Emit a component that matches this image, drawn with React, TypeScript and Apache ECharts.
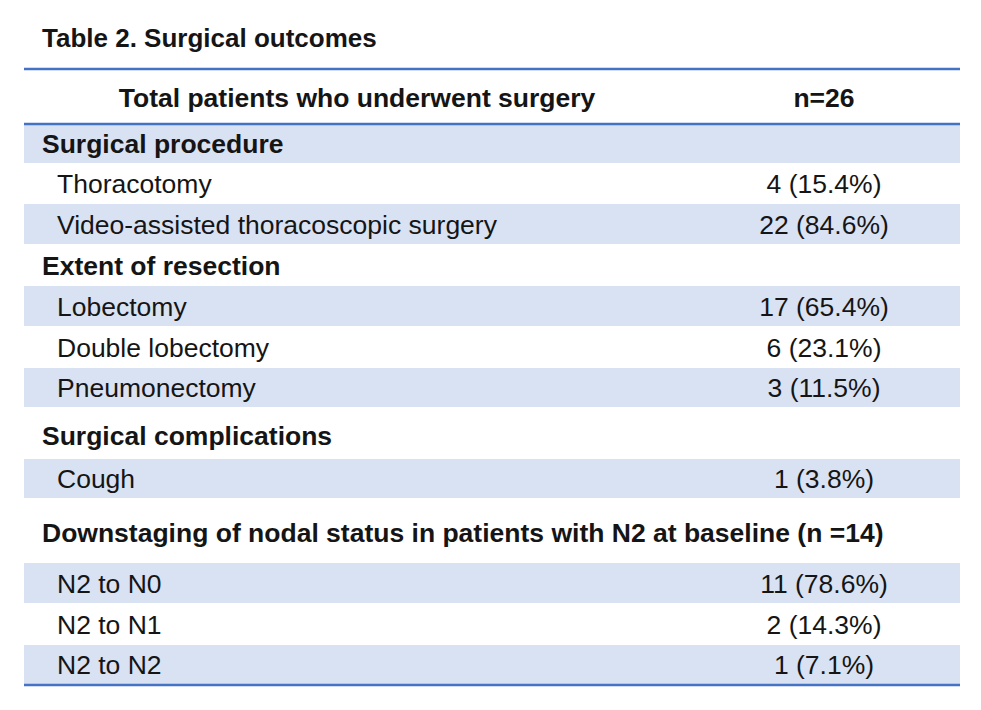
import React, { useEffect, useRef } from "react";
import * as echarts from "echarts";

const title = "Table 2. Surgical outcomes";
const headerLabel = "Total patients who underwent surgery";
const headerValue = "n=26";

// kind: "section" = bold group heading, "item" = indented row
const rowLabels = [
  "Surgical procedure",
  "Thoracotomy",
  "Video-assisted thoracoscopic surgery",
  "Extent of resection",
  "Lobectomy",
  "Double lobectomy",
  "Pneumonectomy",
  "Surgical complications",
  "Cough",
  "Downstaging of nodal status in patients with N2 at baseline (n =14)",
  "N2 to N0",
  "N2 to N1",
  "N2 to N2",
];
const rowValues = [
  "",
  "4 (15.4%)",
  "22 (84.6%)",
  "",
  "17 (65.4%)",
  "6 (23.1%)",
  "3 (11.5%)",
  "",
  "1 (3.8%)",
  "",
  "11 (78.6%)",
  "2 (14.3%)",
  "1 (7.1%)",
];
const rowKinds = [
  "section", "item", "item",
  "section", "item", "item", "item",
  "section", "item",
  "section", "item", "item", "item",
];
const rowShaded = [true, false, true, false, true, false, true, false, true, false, true, false, true];
const rowHeights = [40, 40, 41, 41, 41, 41, 40, 51, 40, 64, 41, 41, 40];

const FONT = "'Liberation Sans', Arial, 'Helvetica', sans-serif";
const BLUE = "#4472C4";
const SHADE = "#D9E2F3";
const TEXT = "#151515";
const SIZE = 26.5;

export default function App() {
  const ref = useRef<HTMLDivElement>(null);
  useEffect(() => {
    if (!ref.current) return;
    const chart = echarts.init(ref.current, undefined, { renderer: "svg" });
    const left = 24;
    const right = 960;
    const valueX = 824;
    const elements: any[] = [];

    elements.push({
      type: "text",
      x: 42,
      y: 38,
      style: {
        text: title,
        font: `bold 26px ${FONT}`,
        fill: TEXT,
        align: "left",
        verticalAlign: "middle",
      },
    });

    // header
    elements.push({
      type: "text",
      x: 357,
      y: 98,
      style: {
        text: headerLabel,
        font: `bold ${SIZE}px ${FONT}`,
        fill: TEXT,
        align: "center",
        verticalAlign: "middle",
      },
    });
    elements.push({
      type: "text",
      x: valueX,
      y: 98,
      style: {
        text: headerValue,
        font: `bold ${SIZE}px ${FONT}`,
        fill: TEXT,
        align: "center",
        verticalAlign: "middle",
      },
    });

    let y = 124;
    rowLabels.forEach((label, i) => {
      const h = rowHeights[i];
      if (rowShaded[i]) {
        elements.push({
          type: "rect",
          shape: { x: left, y: y, width: right - left, height: h - 1 },
          style: { fill: SHADE },
          z: 0,
        });
      }
      const isSection = rowKinds[i] === "section";
      const ty = y + h / 2 + (h > 45 ? 2 : 0);
      elements.push({
        type: "text",
        x: isSection ? 42 : 57,
        y: ty,
        z: 2,
        style: {
          text: label,
          font: `${isSection ? "bold " : ""}${SIZE}px ${FONT}`,
          fill: TEXT,
          align: "left",
          verticalAlign: "middle",
        },
      });
      if (rowValues[i]) {
        elements.push({
          type: "text",
          x: valueX,
          y: ty,
          z: 2,
          style: {
            text: rowValues[i],
            font: `${SIZE}px ${FONT}`,
            fill: TEXT,
            align: "center",
            verticalAlign: "middle",
          },
        });
      }
      y += h;
    });

    const lines = [69, 124, y];
    lines.forEach((ly) => {
      elements.push({
        type: "line",
        shape: { x1: left, y1: ly, x2: right, y2: ly },
        style: { stroke: BLUE, lineWidth: 2.5 },
        z: 3,
      });
    });

    chart.setOption({
      animation: false,
      backgroundColor: "#ffffff",
      graphic: { elements },
    });
    return () => chart.dispose();
  }, []);
  return (
    <div
      ref={ref}
      style={{ position: "absolute", left: 0, top: 0, width: 981, height: 710 }}
    />
  );
}
